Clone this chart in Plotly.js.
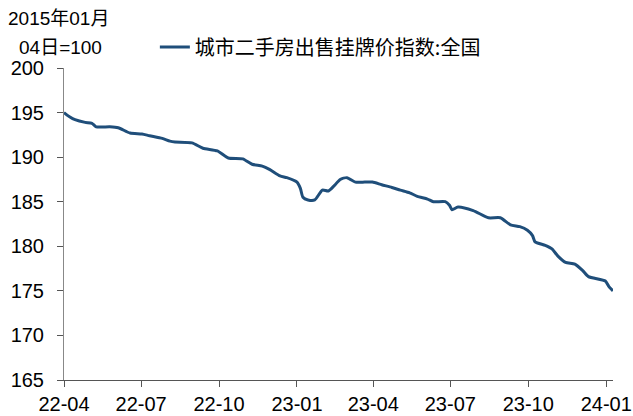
<!DOCTYPE html>
<html>
<head>
<meta charset="utf-8">
<script src="https://cdn.plot.ly/plotly-3.0.1.min.js"></script>
<style>html,body{margin:0;padding:0;background:#fff;}#chart{width:633px;height:416px;}</style>
</head>
<body>
<div id="chart"></div>
<script>
const seriesName = "城市二手房出售挂牌价指数:全国";
const dates = [
"2022-04-01","2022-04-08","2022-04-14","2022-04-26","2022-05-04","2022-05-09","2022-05-25","2022-06-04",
"2022-06-18","2022-07-02","2022-07-11","2022-07-26","2022-08-04","2022-08-10","2022-08-30","2022-09-12",
"2022-09-29","2022-10-12","2022-10-29","2022-11-09","2022-11-21","2022-11-30","2022-12-12","2022-12-20",
"2023-01-01","2023-01-05","2023-01-08","2023-01-14","2023-01-22","2023-01-31","2023-02-07","2023-02-14",
"2023-02-21","2023-03-01","2023-03-11","2023-03-22","2023-03-31","2023-04-11","2023-04-23","2023-05-03",
"2023-05-14","2023-05-23","2023-06-04","2023-06-11","2023-06-25","2023-06-30","2023-07-03","2023-07-10",
"2023-07-28","2023-08-15","2023-08-29","2023-09-10","2023-09-21","2023-09-30","2023-10-06","2023-10-09",
"2023-10-21","2023-10-29","2023-11-05","2023-11-14","2023-11-25","2023-12-04","2023-12-11","2023-12-31",
"2024-01-04","2024-01-09"
];
const values = [
195.0,194.5,194.2,193.9,193.8,193.4,193.4,193.3,
192.7,192.6,192.4,192.1,191.8,191.7,191.6,191.0,
190.7,189.9,189.8,189.2,189.0,188.6,187.9,187.7,
187.2,186.5,185.5,185.2,185.2,186.3,186.2,186.8,
187.5,187.7,187.2,187.2,187.2,186.9,186.6,186.3,
186.0,185.6,185.3,185.0,185.0,184.6,184.1,184.4,
184.0,183.2,183.2,182.4,182.2,181.8,181.2,180.5,
180.1,179.7,178.9,178.2,178.0,177.3,176.6,176.1,
175.5,175.0
];
const xTickDates = ["2022-04-01","2022-07-01","2022-10-01","2023-01-01","2023-04-01","2023-07-01","2023-10-01","2024-01-01"];
const xTickLabels = ["22-04","22-07","22-10","23-01","23-04","23-07","23-10","24-01"];
const yTicks = [165,170,175,180,185,190,195,200];
const noteLine1 = "2015年01月";
const noteLine2 = "04日=100";

const latin = "Liberation Sans, Arial, Noto Sans CJK SC, sans-serif";
const cjk = "Noto Sans CJK SC, sans-serif";

const trace = {
  x: dates, y: values, type: "scatter", mode: "lines", name: seriesName,
  line: {color: "#1F4E7A", width: 3, shape: "spline", smoothing: 0.6}
};

const layout = {
  width: 633, height: 416,
  margin: {l: 64, r: 20, t: 68, b: 36},
  paper_bgcolor: "#fff", plot_bgcolor: "#fff",
  font: {family: latin, size: 20, color: "#000"},
  showlegend: true,
  legend: {x: 0.1655, xanchor: "left", y: 1.067, yanchor: "middle", orientation: "h",
           font: {family: cjk, size: 20, color: "#000"}, bgcolor: "rgba(0,0,0,0)"},
  xaxis: {
    type: "date", range: ["2022-04-01", "2024-01-09"],
    tickmode: "array", tickvals: xTickDates, ticktext: xTickLabels,
    showgrid: false, zeroline: false, showline: true, linecolor: "#555", linewidth: 1,
    ticks: "outside", ticklen: 6, tickcolor: "#555",
    tickfont: {family: latin, size: 20, color: "#000"}
  },
  yaxis: {
    range: [165, 200], tickmode: "array", tickvals: yTicks,
    showgrid: false, zeroline: false, showline: true, linecolor: "#888", linewidth: 1,
    ticks: "outside", ticklen: 6, tickcolor: "#555", ticklabelstandoff: 9,
    tickfont: {family: latin, size: 20, color: "#000"}
  },
  annotations: [
    {text: noteLine1, xref: "paper", yref: "paper", x: -0.1056, y: 1.16, xanchor: "left", yanchor: "middle",
     showarrow: false, font: {family: latin, size: 19, color: "#000"}},
    {text: noteLine2, xref: "paper", yref: "paper", x: -0.0856, y: 1.067, xanchor: "left", yanchor: "middle",
     showarrow: false, font: {family: latin, size: 19, color: "#000"}}
  ]
};

Plotly.newPlot("chart", [trace], layout, {displayModeBar: false, staticPlot: true});
</script>
</body>
</html>
